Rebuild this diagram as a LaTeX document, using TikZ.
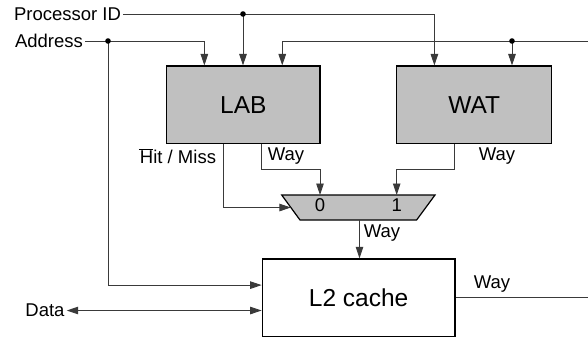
\documentclass[tikz,border=0pt]{standalone}
\usepackage{fontspec}
\setmainfont{Liberation Sans}
\usetikzlibrary{arrows.meta,calc}
\definecolor{wire}{HTML}{3A3A3A}
\definecolor{boxfill}{HTML}{C0C0C0}
\tikzset{
  unit/.style={draw=black,line width=1.2pt,inner sep=0pt,font=\fontsize{24.5}{28}\selectfont},
  graybox/.style={unit,fill=boxfill},
  muxshape/.style={draw=black,line width=1.2pt,fill=boxfill,line join=miter},
  lbl/.style={inner sep=2pt,font=\fontsize{18.5}{22}\selectfont},
  wireline/.style={draw=wire,line width=0.9pt},
  arr/.style={wireline,-{Triangle[length=11.5pt,width=7.5pt]}},
  biarr/.style={wireline,{Triangle[length=11.5pt,width=7.5pt]}-{Triangle[length=11.5pt,width=7.5pt]}},
  joint/.style={circle,fill=black,inner sep=0pt,minimum size=5.6pt}
}
\begin{document}
\begin{tikzpicture}[x=1pt,y=-1pt]
\useasboundingbox (0,0) rectangle (588,338);

% functional blocks
\node[graybox,minimum width=153.3pt,minimum height=77.3pt] (lab) at (243.3,104.7) {LAB};
\node[graybox,minimum width=155pt,minimum height=77.3pt] (wat) at (474.2,104.7) {WAT};
\node[unit,minimum width=192.7pt,minimum height=77.7pt] (l2) at (358.6,297.8) {L2 cache};

% way multiplexer (wide side on top)
\coordinate (mtl) at (281.7,195);
\coordinate (mtr) at (435,195);
\coordinate (mbr) at (416.6,220);
\coordinate (mbl) at (300,220);
\coordinate (msel) at (290.9,207.5);
\coordinate (min0) at (320,195);
\coordinate (min1) at (396.7,195);
\coordinate (mout) at (359.5,220);
\draw[muxshape] (mtl) -- (mtr) -- (mbr) -- (mbl) -- cycle;
\node[lbl] (m0) at (320,205) {0};
\node[lbl] (m1) at (396.7,205) {1};

% signal labels
\node[lbl] (pid) at (67.5,14) {Processor ID};
\node[lbl] (addr) at (49,41) {Address};
\node[lbl] (data) at (45,310.5) {Data};
\node[lbl] (hm) at (178,156) {\rlap{\kern-1pt\rule[13.4pt]{14pt}{0.8pt}}Hit / Miss};
\node[lbl] (wlab) at (286,156) {Way};
\node[lbl] (wwat) at (497,156) {Way};
\node[lbl] (wmux) at (382,233) {Way};
\node[lbl] (wl2) at (492,284) {Way};

% junctions and open ends
\coordinate (piddot) at (243,14);
\coordinate (addrdot) at (108,41);
\coordinate (rin) at (588,41);
\coordinate (rdot) at (512,41);
\coordinate (rout) at (588,297.8);

% processor ID
\draw[arr] (pid.east) -| ([xshift=38.3pt]wat.north west);
\draw[arr] (piddot) -- (piddot |- lab.north);
\node[joint] (j1) at (piddot) {};

% address
\draw[arr] (addr.east) -| ([xshift=38.3pt]lab.north west);
\draw[arr] (addrdot) |- ([yshift=12.7pt]l2.west);
\node[joint] (j2) at (addrdot) {};

% input from the right
\draw[arr] (rin) -| ([xshift=-38.3pt]lab.north east);
\draw[arr] (rdot) -- (rdot |- wat.north);
\node[joint] (j3) at (rdot) {};

% hit / miss select and way inputs of the multiplexer
\draw[arr] ([xshift=57.3pt]lab.south west) |- (msel);
\draw[arr] ([xshift=95.3pt]lab.south west) -- ++(0,25.7) -| (min0);
\draw[arr] ([xshift=58.3pt]wat.south west) -- ++(0,25.7) -| (min1);

% multiplexer to L2 cache
\draw[arr] (mout) -- (mout |- l2.north);

% data port and way output
\draw[biarr] (data.east) -- ([yshift=-12.7pt]l2.west);
\draw[wireline] (l2.east) -- (rout);
\end{tikzpicture}
\end{document}
